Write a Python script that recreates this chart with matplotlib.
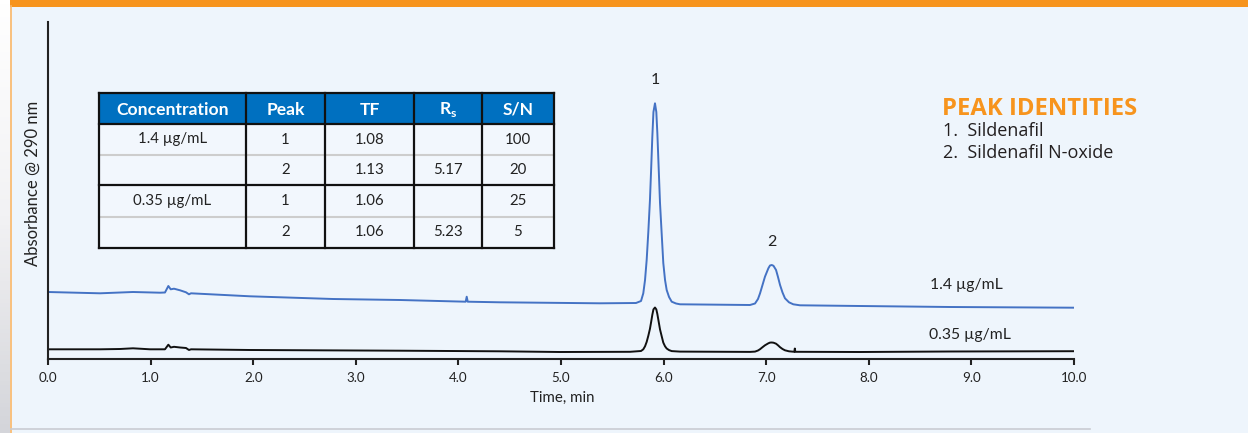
import numpy as np
import matplotlib
matplotlib.use("Agg")
import matplotlib.pyplot as plt
from matplotlib.patches import Rectangle

plt.rcParams['font.family'] = ['Lato', 'DejaVu Sans']

# chromatogram traces (time in min, absorbance arbitrary)
t_high = [0.000, 0.507, 0.828, 1.092, 1.140, 1.173, 1.196, 1.228, 1.287, 1.345, 1.374, 1.394,
          1.969, 2.778, 3.431, 4.071, 4.081, 4.091, 4.405, 5.380, 5.731, 5.780, 5.802, 5.819,
          5.835, 5.851, 5.867, 5.879, 5.890, 5.901, 5.916, 5.929, 5.939, 5.952, 5.965, 5.982,
          5.997, 6.014, 6.030, 6.053, 6.079, 6.121, 6.160, 6.842, 6.891, 6.920, 6.940, 6.964,
          6.988, 7.021, 7.037, 7.054, 7.071, 7.096, 7.115, 7.135, 7.159, 7.183, 7.222, 7.264,
          7.329, 7.914, 8.791, 10.000]
a_high = [6.70, 6.57, 6.70, 6.63, 6.65, 7.30, 6.97, 7.03, 6.87, 6.67, 6.47, 6.57,
          6.27, 6.00, 5.90, 5.73, 6.23, 5.73, 5.67, 5.57, 5.60, 5.80, 6.57, 7.90,
          9.90, 12.70, 15.90, 19.10, 22.20, 24.70, 25.57, 24.70, 22.60, 19.10, 15.60, 12.40,
          9.60, 7.90, 6.90, 6.20, 5.73, 5.55, 5.47, 5.40, 5.55, 6.00, 6.57, 7.40,
          8.23, 9.07, 9.35, 9.40, 9.32, 8.90, 8.20, 7.40, 6.65, 6.07, 5.67, 5.47,
          5.37, 5.30, 5.20, 5.13]

t_low = [0.000, 0.507, 0.702, 0.828, 0.994, 1.140, 1.173, 1.196, 1.228, 1.287, 1.345, 1.374,
         1.394, 1.969, 3.431, 4.405, 4.990, 5.673, 5.780, 5.802, 5.819, 5.835, 5.851, 5.867,
         5.879, 5.890, 5.901, 5.916, 5.929, 5.939, 5.952, 5.965, 5.982, 5.997, 6.014, 6.030,
         6.053, 6.079, 6.160, 6.842, 6.891, 6.920, 6.940, 6.964, 6.988, 7.021, 7.037, 7.054,
         7.071, 7.096, 7.115, 7.135, 7.159, 7.183, 7.222, 7.274, 7.279, 7.284, 7.914, 8.791,
         10.000]
a_low = [0.97, 0.97, 1.00, 1.07, 0.97, 0.97, 1.43, 1.15, 1.22, 1.15, 1.10, 0.90,
         0.97, 0.90, 0.83, 0.77, 0.70, 0.72, 0.80, 0.97, 1.27, 1.71, 2.32, 3.02,
         3.73, 4.41, 4.96, 5.15, 4.96, 4.50, 3.73, 2.96, 2.25, 1.64, 1.27, 1.05,
         0.89, 0.79, 0.74, 0.71, 0.74, 0.85, 0.98, 1.18, 1.37, 1.57, 1.64, 1.65,
         1.63, 1.53, 1.37, 1.18, 1.00, 0.87, 0.77, 0.72, 1.05, 0.72, 0.70, 0.75,
         0.78]

peak_labels = ['1', '2']
peak_times = [5.916, 7.054]
peak_tops = [25.57, 9.40]

x_ticks = [0, 1, 2, 3, 4, 5, 6, 7, 8, 9, 10]

table_header = ['Concentration', 'Peak', 'TF', 'R$_\\mathregular{s}$', 'S/N']
table_rows = [['1.4 µg/mL', '1', '1.08', '', '100'],
              ['', '2', '1.13', '5.17', '20'],
              ['0.35 µg/mL', '1', '1.06', '', '25'],
              ['', '2', '1.06', '5.23', '5']]

identities = ['1.  Sildenafil', '2.  Sildenafil N-oxide']

BG = '#eef5fc'
ORANGE = '#f7941d'
BLUE = '#4472c4'
INK = '#222222'

W, H = 1248, 433
fig = plt.figure(figsize=(W / 100, H / 100), dpi=100, facecolor=BG)

# decoration layer in pixel coordinates
deco = fig.add_axes([0, 0, 1, 1], zorder=0)
deco.set_xlim(0, W)
deco.set_ylim(H, 0)
deco.axis('off')
grad = np.linspace(0, 1, 100).reshape(-1, 1)
deco.imshow(grad, extent=[0, 10, H, 0], aspect='auto', zorder=1,
            cmap=matplotlib.colors.LinearSegmentedColormap.from_list('g', ['#ffffff', '#f2f2f4', '#d4d5da']))
deco.add_patch(Rectangle((10, 0), W - 10, 6.5, color=ORANGE, lw=0, zorder=2))
deco.plot([10.5, 10.5], [6, H], color='#fbb768', lw=1.2, zorder=2)
deco.plot([11, 1090], [428.5, 428.5], color='#c9ccd2', lw=1.2, zorder=2)

# table
cols = [99, 246, 325, 414, 481.7, 554]
rows = [93.3, 124, 155, 185, 216.7, 247.7]
deco.add_patch(Rectangle((cols[0], rows[0]), cols[-1] - cols[0], rows[1] - rows[0],
                         color='#0070c0', lw=0, zorder=3))
deco.add_patch(Rectangle((cols[0], rows[1]), cols[-1] - cols[0], rows[-1] - rows[1],
                         color='#f2f7fd', lw=0, zorder=3))
for y in [rows[2], rows[4]]:
    deco.plot([cols[0], cols[-1]], [y, y], color='#cdcdcd', lw=1.5, zorder=4)
for y in [rows[0], rows[1], rows[3], rows[5]]:
    deco.plot([cols[0], cols[-1]], [y, y], color='#111111', lw=1.6, zorder=5)
for x in cols:
    deco.plot([x, x], [rows[0], rows[-1]], color='#111111', lw=1.6, zorder=5)
for j, txt in enumerate(table_header):
    deco.text((cols[j] + cols[j + 1]) / 2, (rows[0] + rows[1]) / 2 + 1, txt, color='white',
              fontsize=12.6, fontweight='bold', ha='center', va='center', zorder=6)
for i, row in enumerate(table_rows):
    for j, txt in enumerate(row):
        deco.text((cols[j] + cols[j + 1]) / 2, (rows[i + 1] + rows[i + 2]) / 2, txt,
                  color=INK, fontsize=10.8, ha='center', va='center', zorder=6)

# peak identities
deco.text(942, 109, 'PEAK IDENTITIES', color=ORANGE, fontsize=17.2, fontweight='bold',
          family=['Open Sans', 'DejaVu Sans'], ha='left', va='center', zorder=6)
for k, txt in enumerate(identities):
    deco.text(943, 131 + 22 * k, txt, color='#231f20', fontsize=13,
              family=['Open Sans', 'DejaVu Sans'], ha='left', va='center', zorder=6)

deco.text(33, 183, 'Absorbance @ 290 nm', rotation=90, fontsize=12, color=INK,
          ha='center', va='center', zorder=6)
deco.text(562, 398, 'Time, min', fontsize=10.8, color=INK, ha='center', va='center', zorder=6)

# chromatogram
ax = fig.add_axes([48 / W, 74 / H, 1026 / W, 337 / H], zorder=2)
ax.patch.set_visible(False)
ax.plot(t_high, a_high, color=BLUE, lw=1.4, solid_joinstyle='round')
ax.plot(t_low, a_low, color='#111111', lw=1.4, solid_joinstyle='round')
ax.set_xlim(0, 10)
ax.set_ylim(0, 33.7)
for s in ['top', 'right']:
    ax.spines[s].set_visible(False)
for s in ['left', 'bottom']:
    ax.spines[s].set_color(INK)
    ax.spines[s].set_linewidth(1.5)
ax.set_yticks([])
ax.set_xticks(x_ticks)
ax.set_xticklabels(['%.1f' % v for v in x_ticks])
ax.tick_params(axis='x', length=4.5, width=1.5, color=INK, pad=5, labelsize=9.6,
               labelcolor=INK)

for lab, t, a in zip(peak_labels, peak_times, peak_tops):
    ax.text(t, a + 1.6, lab, ha='center', va='bottom', fontsize=11.5, color=INK)
ax.text(8.95, 7.4, '1.4 µg/mL', ha='center', va='center', fontsize=11.3, color=INK)
ax.text(8.99, 2.45, '0.35 µg/mL', ha='center', va='center', fontsize=11.3, color=INK)

fig.savefig('out.png', dpi=100, facecolor=BG)
